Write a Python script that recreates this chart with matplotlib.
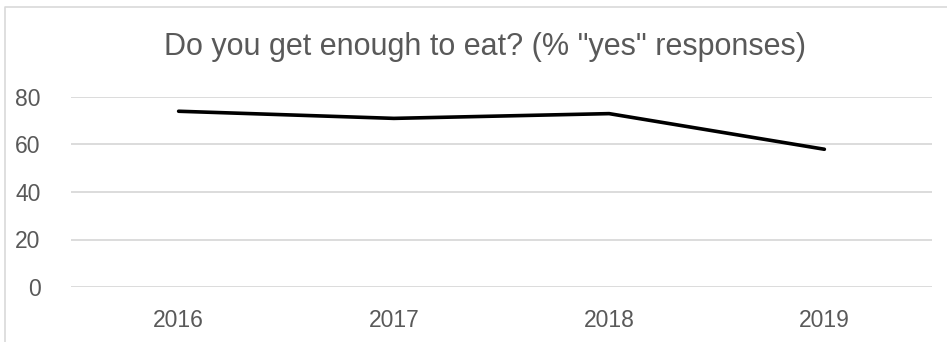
import matplotlib.pyplot as plt
from matplotlib.lines import Line2D

plt.rcParams['font.family'] = ['Liberation Sans', 'DejaVu Sans']

years = ['2016', '2017', '2018', '2019']
yes_pct = [74, 71, 73, 58]
title = 'Do you get enough to eat? (% "yes" responses)'

fig = plt.figure(figsize=(9.47, 3.42), dpi=100)
W, H = 947, 342
# plot area in pixels: left 71, right 932, top (80) 97, bottom (0) 287
ax = fig.add_axes([71 / W, 1 - 287 / H, (932 - 71) / W, (287 - 97) / H])

x = range(len(years))
ax.plot(x, yes_pct, color='black', lw=2.6, solid_capstyle='round', zorder=3)
ax.set_xlim(-0.5, len(years) - 0.5)
ax.set_ylim(0, 80)
ax.set_yticks([0, 20, 40, 60, 80])
ax.set_xticks(list(x))
ax.set_xticklabels(years)
ax.yaxis.grid(True, color='#d9d9d9', lw=1.3)
ax.set_axisbelow(True)
for s in ax.spines.values():
    s.set_visible(False)
ax.tick_params(length=0, colors='#595959', labelsize=16.5)
ax.tick_params(axis='y', pad=22)
ax.tick_params(axis='x', pad=16)

fig.text(484.5 / W, 1 - 47 / H, title, ha='center', va='center', fontsize=22, color='#595959')

# chart border: only top and left edges are visible in the crop
top = 1 - 7 / H
fig.lines.append(Line2D([5 / W, 5 / W, 1], [0, top, top], transform=fig.transFigure,
                        color='#d9d9d9', lw=1.2))

fig.savefig('out.png', dpi=100, facecolor='white')
